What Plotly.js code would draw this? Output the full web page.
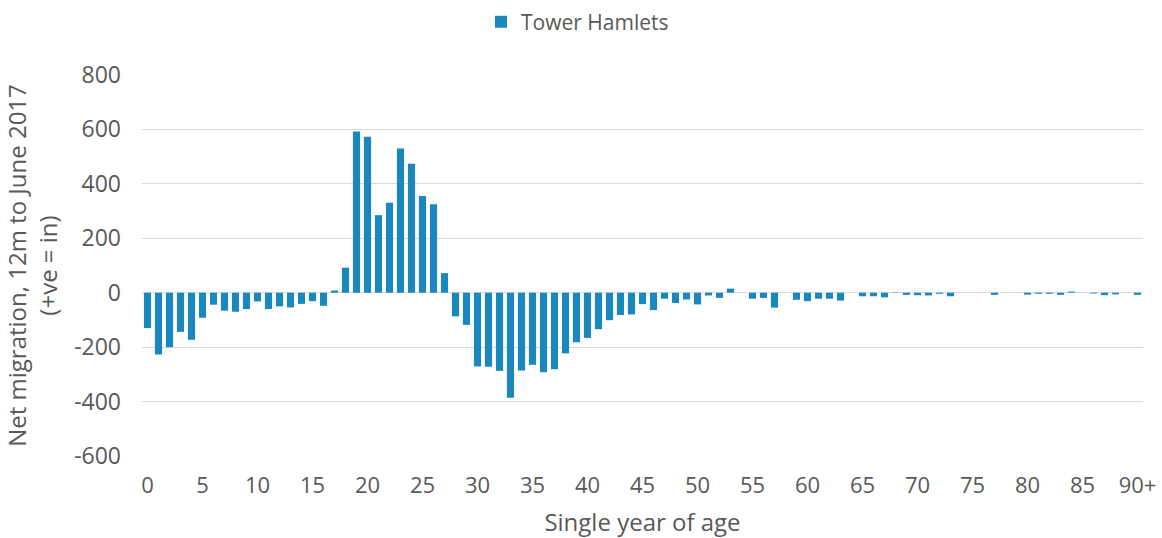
<!DOCTYPE html>
<html>
<head>
<meta charset="utf-8">
<script src="https://cdn.plot.ly/plotly-3.0.1.min.js"></script>
<style>html,body{margin:0;padding:0;background:#fff;}#chart{width:1162px;height:538px;}</style>
</head>
<body>
<div id="chart"></div>
<script>
var ages = [];
for (var i = 0; i < 90; i++) ages.push(String(i));
ages.push("90+");

var seriesName = "Tower Hamlets";
var netMigration = [
  -130, -227, -200, -144, -173, -92, -44, -66, -70, -60,
  -32, -60, -50, -54, -41, -31, -48, 8, 92, 592,
  573, 285, 331, 530, 474, 355, 325, 72, -87, -118,
  -271, -272, -287, -386, -286, -265, -292, -281, -223, -182,
  -166, -134, -101, -82, -80, -42, -64, -22, -38, -25,
  -43, -10, -19, 15, 0, -22, -19, -55, 0, -26,
  -31, -22, -22, -29, 0, -13, -13, -17, -1, -8,
  -9, -10, -4, -13, 0, 0, 0, -8, 0, 0,
  -7, -4, -4, -8, 4, 0, -3, -9, -6, 0,
  -8
];

var xTickLabels = ["0","5","10","15","20","25","30","35","40","45","50","55","60","65","70","75","80","85","90+"];
var yTickVals = [-600, -400, -200, 0, 200, 400, 600, 800];
var yTickText = ["-600", "-400", "-200", "0", "200", "400", "600", "800"];

var font = "Open Sans, sans-serif";
var tickColor = "#595959";

Plotly.newPlot("chart", [{
  type: "bar",
  x: ages,
  y: netMigration,
  name: seriesName,
  marker: {color: "#1a87be"},
  showlegend: true
}], {
  width: 1162,
  height: 538,
  margin: {l: 142, r: 19, t: 75, b: 82},
  paper_bgcolor: "#fff",
  plot_bgcolor: "#fff",
  bargap: 0.35,
  font: {family: font, color: tickColor, size: 18},
  showlegend: true,
  legend: {
    orientation: "h",
    xref: "container", yref: "container",
    x: 0.497, xanchor: "center",
    y: 0.997, yanchor: "top",
    font: {family: font, size: 21, color: tickColor},
    itemwidth: 30
  },
  xaxis: {
    type: "category",
    tickmode: "array",
    tickvals: xTickLabels,
    ticktext: xTickLabels,
    showgrid: false,
    zeroline: false,
    showline: false,
    ticks: "",
    ticklabelstandoff: 14,
    tickfont: {family: font, size: 22, color: tickColor},
    title: {text: "Single year of age", font: {family: font, size: 24, color: tickColor}, standoff: 18}
  },
  yaxis: {
    range: [-600, 800],
    tickmode: "array",
    tickvals: yTickVals,
    ticktext: yTickText,
    showgrid: true,
    gridcolor: "#d9d9d9",
    gridwidth: 1,
    zeroline: true,
    zerolinecolor: "#d9d9d9",
    zerolinewidth: 1,
    showline: false,
    ticks: "",
    ticklabelstandoff: 20,
    tickfont: {family: font, size: 23, color: tickColor},
    title: {text: "Net migration, 12m to June 2017<br>(+ve = in)", font: {family: font, size: 24, color: tickColor}, standoff: 15}
  }
}, {displayModeBar: false, staticPlot: true});
</script>
</body>
</html>
